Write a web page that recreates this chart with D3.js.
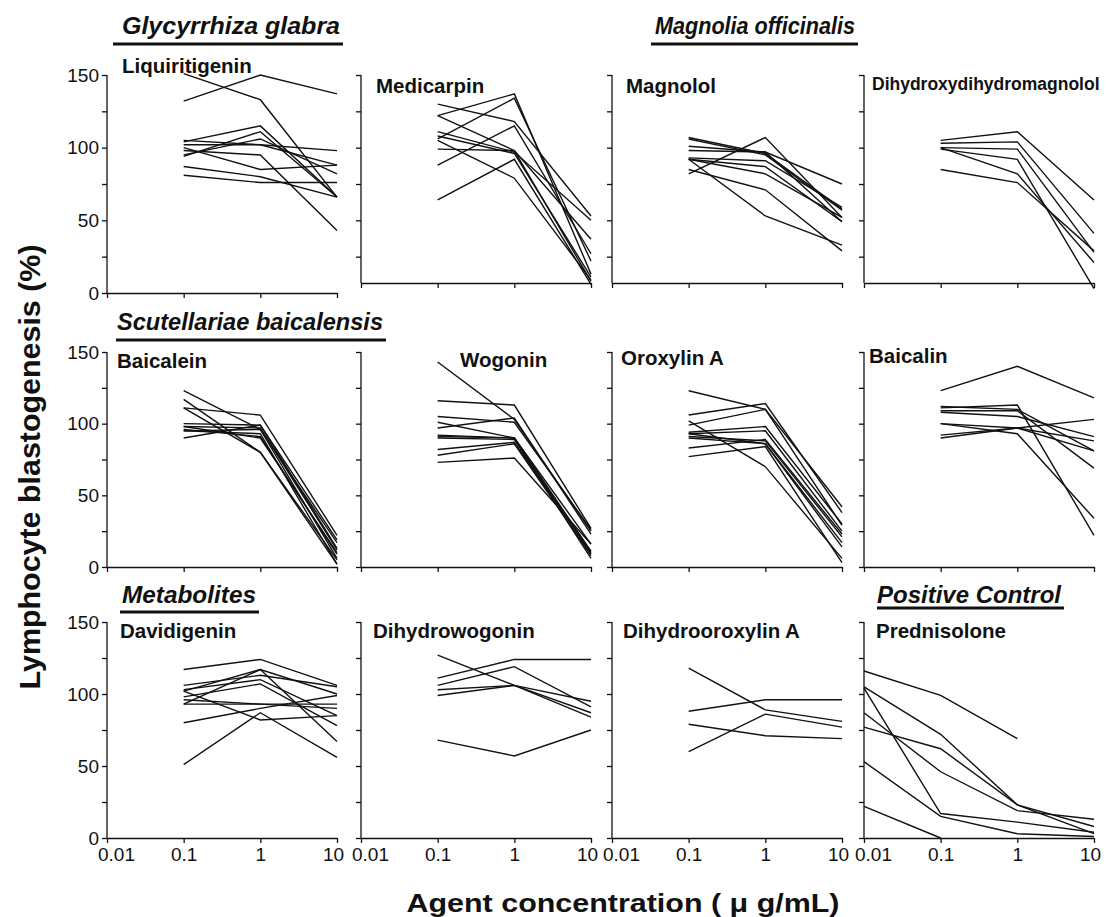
<!DOCTYPE html>
<html>
<head>
<meta charset="utf-8">
<script src="https://cdn.jsdelivr.net/npm/d3@7"></script>
<style>
  body { margin: 0; background: #fff; }
  text { font-family: "Liberation Sans", Arial, Helvetica, sans-serif; fill: #111; }
</style>
</head>
<body>
<script>
// concentrations (ug/mL) on the log x axis
var xTicks = [0.01, 0.1, 1, 10];
var doses = [0.1, 1, 10];
var predDoses = [0.01, 0.1, 1, 10];
var yTicks = [0, 25, 50, 75, 100, 125, 150];
var yLabels = [0, 50, 100, 150];

// lymphocyte blastogenesis (%), one row per subject, values at doses
var liquiritigenin = [[151,133,66],[132,150,137],[105,102,98],[104,115,66],[94,111,66],[95,106,82],
  [102,102,88],[100,85,88],[98,95,43],[87,80,66],[81,76,76]];
var medicarpin = [[130,118,53],[122,137,13],[106,134,22],[88,115,27],[122,98,37],[111,97,50],
  [108,96,11],[99,98,8],[64,92,6],[105,79,9]];
var magnolol = [[107,96,58],[106,95,57],[101,97,75],[98,97,49],[82,107,52],[93,91,59],
  [92,87,49],[92,53,33],[85,71,29],[92,82,52]];
var dihydroxydihydromagnolol = [[105,111,64],[103,104,41],[100,99,28],[99,92,3],[100,82,21],[85,76,29]];
var baicalein = [[123,96,17],[117,80,2],[111,106,22],[111,80,5],[100,99,19],[98,97,12],
  [96,91,9],[95,96,6],[90,99,13],[95,93,2],[98,90,10]];
var wogonin = [[143,103,25],[116,113,27],[105,101,26],[101,90,16],[97,104,23],[92,90,11],
  [91,90,9],[90,89,6],[82,87,10],[78,86,8],[73,76,16]];
var oroxylinA = [[123,110,29],[106,114,38],[99,110,42],[102,70,6],[94,98,30],[93,95,25],
  [91,88,21],[90,86,14],[83,89,23],[77,84,3],[93,86,17]];
var baicalin = [[123,140,118],[112,110,81],[111,113,22],[109,109,69],[108,105,91],[100,97,81],
  [100,93,34],[92,97,88],[90,97,103]];
var davidigenin = [[117,124,106],[106,113,105],[102,117,67],[103,110,85],[98,107,78],[93,117,100],
  [96,93,93],[93,93,90],[80,90,99],[102,82,85],[51,87,56]];
var dihydrowogonin = [[127,106,84],[111,124,124],[106,119,91],[103,106,87],[99,106,95],[68,57,75]];
var dihydrooroxylinA = [[118,89,81],[88,96,96],[79,71,69],[60,86,77]];
var prednisolone = [[116,99,69,null],[105,72,23,3],[104,17,11,4],[87,46,19,13],[77,62,23,8],
  [53,15,3,1],[22,0,null,null]];

// panel layout
var colX = [107, 361, 612, 864];
var rowTop = [75, 352, 622];     // y of 150 %
var rowBottom = [293, 567, 838]; // y of 0 %
var panelW = 230;

// in the original the upper right three panels have their x axis drawn a little higher
var panels = [
  {name: "Liquiritigenin", data: liquiritigenin, xs: doses, row: 0, col: 0, lx: 15, ly: 73, fs: 20.5},
  {name: "Medicarpin", data: medicarpin, xs: doses, row: 0, col: 1, lx: 15, ly: 93, fs: 20.5, axisY: 283},
  {name: "Magnolol", data: magnolol, xs: doses, row: 0, col: 2, lx: 14, ly: 93, fs: 20.5, axisY: 283},
  {name: "Dihydroxydihydromagnolol", data: dihydroxydihydromagnolol, xs: doses, row: 0, col: 3, lx: 8, ly: 90, fs: 17.5, axisY: 283},
  {name: "Baicalein", data: baicalein, xs: doses, row: 1, col: 0, lx: 10, ly: 368, fs: 20.5},
  {name: "Wogonin", data: wogonin, xs: doses, row: 1, col: 1, lx: 99, ly: 367, fs: 20.5},
  {name: "Oroxylin A", data: oroxylinA, xs: doses, row: 1, col: 2, lx: 9, ly: 365, fs: 20.5},
  {name: "Baicalin", data: baicalin, xs: doses, row: 1, col: 3, lx: 5, ly: 363, fs: 20.5},
  {name: "Davidigenin", data: davidigenin, xs: doses, row: 2, col: 0, lx: 13, ly: 638, fs: 20.5},
  {name: "Dihydrowogonin", data: dihydrowogonin, xs: doses, row: 2, col: 1, lx: 12, ly: 638, fs: 20.5},
  {name: "Dihydrooroxylin A", data: dihydrooroxylinA, xs: doses, row: 2, col: 2, lx: 11, ly: 638, fs: 20.5},
  {name: "Prednisolone", data: prednisolone, xs: predDoses, row: 2, col: 3, lx: 12, ly: 638, fs: 20.5}
];

var groups = [
  {text: "Glycyrrhiza glabra", x: 122, y: 34, ly: 44, w: 218, pad: 9},
  {text: "Magnolia officinalis", x: 655, y: 34, ly: 44, w: 200, pad: 4},
  {text: "Scutellariae baicalensis", x: 117, y: 330, ly: 340, w: 266, pad: 1},
  {text: "Metabolites", x: 122, y: 603, ly: 612, w: 134, pad: 2},
  {text: "Positive Control", x: 877, y: 603, ly: 608, w: 184, pad: 0}
];

var svg = d3.select("body").append("svg")
  .attr("width", 1106)
  .attr("height", 917);

panels.forEach(function(p) {
  var g = svg.append("g").attr("transform", "translate(" + colX[p.col] + ",0)");
  var x = d3.scaleLog().domain([0.01, 10]).range([0, panelW]);
  var y = d3.scaleLinear().domain([0, 150]).range([rowBottom[p.row], rowTop[p.row]]);
  var baseY = p.axisY || rowBottom[p.row];

  // y axis: only ticks that sit above the drawn x axis
  var ticks = yTicks.filter(function(t) { return y(t) <= baseY + 0.5; });
  var yAxis = d3.axisLeft(y).tickValues(ticks).tickSize(5).tickSizeOuter(0).tickPadding(3)
    .tickFormat(function(d) { return (p.col === 0 && yLabels.indexOf(d) >= 0) ? d : ""; });
  var xAxis = d3.axisBottom(x).tickValues(xTicks).tickSize(5).tickSizeOuter(0).tickPadding(5)
    .tickFormat(function(d) { return p.row === 2 ? String(d) : ""; });

  var ya = g.append("g").call(yAxis);
  ya.select(".domain").attr("d", "M0," + rowTop[p.row] + "V" + baseY);
  var xa = g.append("g").attr("transform", "translate(0," + baseY + ")").call(xAxis);
  [ya, xa].forEach(function(a) {
    a.selectAll("path, line").attr("stroke", "#111").attr("stroke-width", 1.3);
    a.selectAll("text").attr("font-size", 19).attr("fill", "#111");
  });
  // nudge first/last concentration labels like the original
  xa.selectAll("text").attr("dx", function(d) { return d === 0.01 ? 9 : (d === 10 ? -4 : 0); });

  var line = d3.line()
    .defined(function(d) { return d[1] != null; })
    .x(function(d) { return x(d[0]); })
    .y(function(d) { return y(d[1]); });

  g.selectAll("path.series")
    .data(p.data)
    .enter().append("path")
    .attr("class", "series")
    .attr("fill", "none")
    .attr("stroke", "#111")
    .attr("stroke-width", 1.4)
    .attr("d", function(vals) { return line(vals.map(function(v, i) { return [p.xs[i], v]; })); });

  g.append("text")
    .attr("x", p.lx)
    .attr("y", p.ly)
    .attr("font-size", p.fs)
    .attr("font-weight", "bold")
    .text(p.name);
});

// group headings, bold italic with a rule under them
groups.forEach(function(gr) {
  svg.append("text")
    .attr("x", gr.x)
    .attr("y", gr.y)
    .attr("font-size", 23)
    .attr("font-weight", "bold")
    .attr("font-style", "italic")
    .attr("textLength", gr.w)
    .attr("lengthAdjust", "spacingAndGlyphs")
    .text(gr.text);
  svg.append("line")
    .attr("x1", gr.x - gr.pad)
    .attr("x2", gr.x + gr.w + 3)
    .attr("y1", gr.ly)
    .attr("y2", gr.ly)
    .attr("stroke", "#111")
    .attr("stroke-width", 3);
});

// axis titles
svg.append("text")
  .attr("transform", "translate(40,467) rotate(-90)")
  .attr("text-anchor", "middle")
  .attr("font-size", 30)
  .attr("font-weight", "bold")
  .attr("textLength", 445)
  .attr("lengthAdjust", "spacingAndGlyphs")
  .text("Lymphocyte blastogenesis (%)");

svg.append("text")
  .attr("x", 623)
  .attr("y", 912)
  .attr("text-anchor", "middle")
  .attr("font-size", 26)
  .attr("font-weight", "bold")
  .attr("textLength", 433)
  .attr("lengthAdjust", "spacingAndGlyphs")
  .text("Agent concentration ( \u03bc g/mL)");
</script>
</body>
</html>
